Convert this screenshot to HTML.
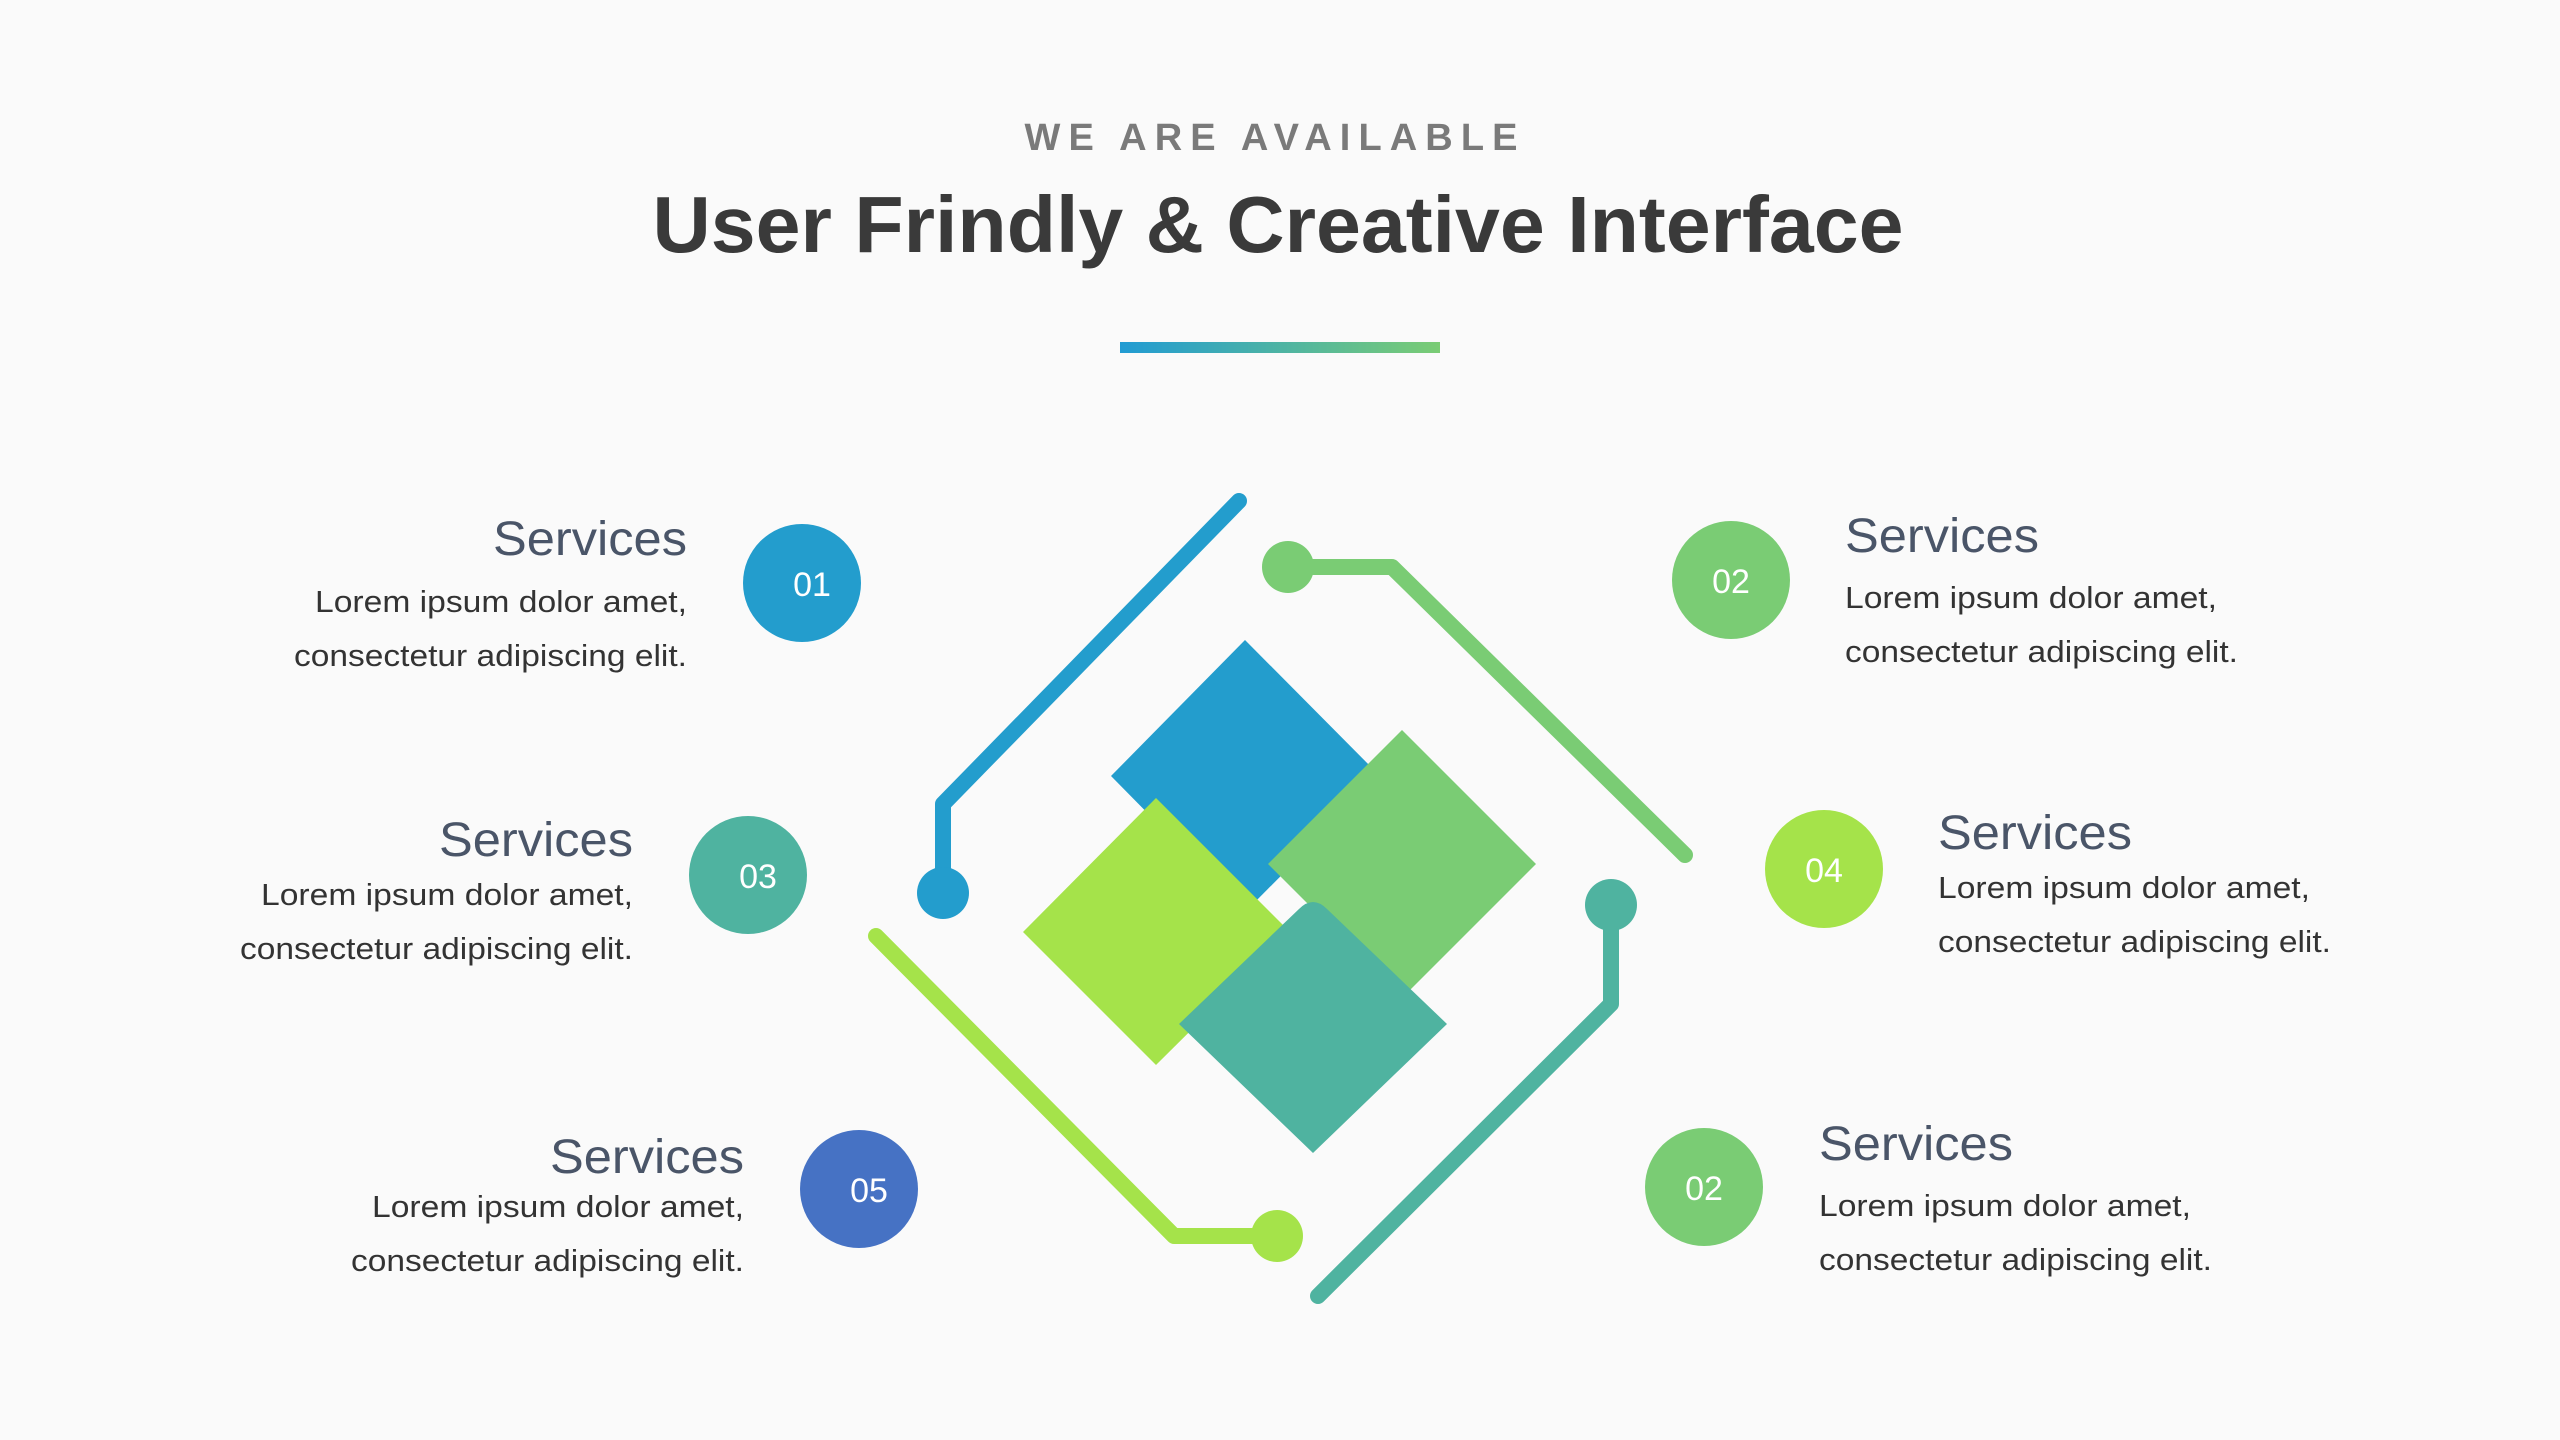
<!DOCTYPE html>
<html><head><meta charset="utf-8"><style>
html,body{margin:0;padding:0;background:#fafafa;}
svg{display:block;}
text{font-family:"Liberation Sans",sans-serif;}
</style></head><body>
<svg width="2560" height="1440" viewBox="0 0 2560 1440" xmlns="http://www.w3.org/2000/svg">
<defs><linearGradient id="g" x1="0" x2="1"><stop offset="0" stop-color="#219bd3"/><stop offset="1" stop-color="#7acc74"/></linearGradient></defs>
<rect width="2560" height="1440" fill="#fafafa"/>
<text x="1275" y="150" text-anchor="middle" font-size="38" font-weight="bold" fill="#7a7a7a" textLength="501" lengthAdjust="spacing" letter-spacing="8">WE ARE AVAILABLE</text>
<text x="1278" y="252" text-anchor="middle" font-size="80" font-weight="bold" fill="#3a3a3a" textLength="1251" lengthAdjust="spacingAndGlyphs">User Frindly &amp; Creative Interface</text>
<rect x="1120" y="342" width="320" height="11" fill="url(#g)"/>

<g stroke-width="16" stroke-linecap="round" stroke-linejoin="round" fill="none">
<polyline points="1239,501 943,804 943,900" stroke="#239dcd"/>
<polyline points="1288,567 1392,567 1685,855" stroke="#7acc74"/>
<polyline points="876,936 1174,1236 1277,1236" stroke="#a5e34a"/>
<polyline points="1611,905 1611,1004 1318,1296" stroke="#4fb3a0"/>
</g>
<circle cx="943" cy="893" r="26" fill="#239dcd"/>
<circle cx="1288" cy="567" r="26" fill="#7acc74"/>
<circle cx="1277" cy="1236" r="26" fill="#a5e34a"/>
<circle cx="1611" cy="905" r="26" fill="#4fb3a0"/>

<polygon points="1245,640 1380,776 1245,912 1111,776" fill="#239dcd"/>
<polygon points="1402,730 1536,864 1402,998 1268,864" fill="#7acc74"/>
<polygon points="1156,798 1290,932 1156,1065 1023,932" fill="#a5e34a"/>
<path d="M1299,909 Q1313,895 1327,909 L1447,1024 L1313,1153 L1179,1024 Z" fill="#4fb3a0"/>

<g font-size="34" fill="#fff" text-anchor="middle">
<circle cx="802" cy="583" r="59" fill="#239dcd"/><text x="812" y="596">01</text>
<circle cx="1731" cy="580" r="59" fill="#7acc74"/><text x="1731" y="593">02</text>
<circle cx="748" cy="875" r="59" fill="#4fb3a0"/><text x="758" y="888">03</text>
<circle cx="1824" cy="869" r="59" fill="#a5e34a"/><text x="1824" y="882">04</text>
<circle cx="859" cy="1189" r="59" fill="#4672c4"/><text x="869" y="1202">05</text>
<circle cx="1704" cy="1187" r="59" fill="#7acc74"/><text x="1704" y="1200">02</text>
</g>

<g text-anchor="end">
<text x="687" y="555" font-size="48" fill="#4a5568" textLength="194" lengthAdjust="spacingAndGlyphs">Services</text>
<text x="687" y="612" font-size="31" fill="#333" textLength="372" lengthAdjust="spacingAndGlyphs">Lorem ipsum dolor amet,</text>
<text x="687" y="666" font-size="31" fill="#333" textLength="393" lengthAdjust="spacingAndGlyphs">consectetur adipiscing elit.</text>
<text x="633" y="856" font-size="48" fill="#4a5568" textLength="194" lengthAdjust="spacingAndGlyphs">Services</text>
<text x="633" y="905" font-size="31" fill="#333" textLength="372" lengthAdjust="spacingAndGlyphs">Lorem ipsum dolor amet,</text>
<text x="633" y="959" font-size="31" fill="#333" textLength="393" lengthAdjust="spacingAndGlyphs">consectetur adipiscing elit.</text>
<text x="744" y="1173" font-size="48" fill="#4a5568" textLength="194" lengthAdjust="spacingAndGlyphs">Services</text>
<text x="744" y="1217" font-size="31" fill="#333" textLength="372" lengthAdjust="spacingAndGlyphs">Lorem ipsum dolor amet,</text>
<text x="744" y="1271" font-size="31" fill="#333" textLength="393" lengthAdjust="spacingAndGlyphs">consectetur adipiscing elit.</text>
</g>
<g>
<text x="1845" y="552" font-size="48" fill="#4a5568" textLength="194" lengthAdjust="spacingAndGlyphs">Services</text>
<text x="1845" y="608" font-size="31" fill="#333" textLength="372" lengthAdjust="spacingAndGlyphs">Lorem ipsum dolor amet,</text>
<text x="1845" y="662" font-size="31" fill="#333" textLength="393" lengthAdjust="spacingAndGlyphs">consectetur adipiscing elit.</text>
<text x="1938" y="849" font-size="48" fill="#4a5568" textLength="194" lengthAdjust="spacingAndGlyphs">Services</text>
<text x="1938" y="898" font-size="31" fill="#333" textLength="372" lengthAdjust="spacingAndGlyphs">Lorem ipsum dolor amet,</text>
<text x="1938" y="952" font-size="31" fill="#333" textLength="393" lengthAdjust="spacingAndGlyphs">consectetur adipiscing elit.</text>
<text x="1819" y="1160" font-size="48" fill="#4a5568" textLength="194" lengthAdjust="spacingAndGlyphs">Services</text>
<text x="1819" y="1216" font-size="31" fill="#333" textLength="372" lengthAdjust="spacingAndGlyphs">Lorem ipsum dolor amet,</text>
<text x="1819" y="1270" font-size="31" fill="#333" textLength="393" lengthAdjust="spacingAndGlyphs">consectetur adipiscing elit.</text>
</g>
</svg>
</body></html>
